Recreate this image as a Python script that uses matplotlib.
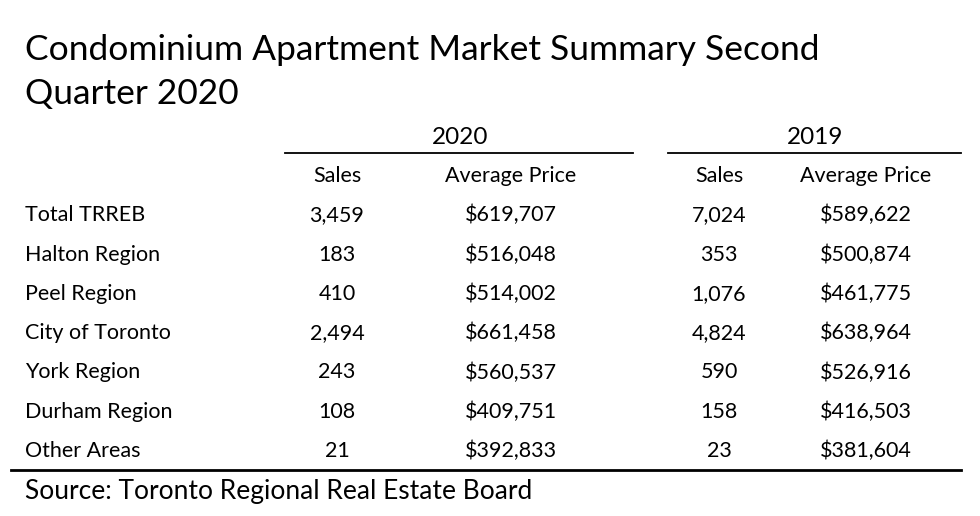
import matplotlib.pyplot as plt

plt.rcParams['font.family'] = ['Lato', 'DejaVu Sans']

title_lines = ["Condominium Apartment Market Summary Second", "Quarter 2020"]
source = "Source: Toronto Regional Real Estate Board"

regions = ["Total TRREB", "Halton Region", "Peel Region", "City of Toronto",
           "York Region", "Durham Region", "Other Areas"]
sales_2020 = [3459, 183, 410, 2494, 243, 108, 21]
price_2020 = [619707, 516048, 514002, 661458, 560537, 409751, 392833]
sales_2019 = [7024, 353, 1076, 4824, 590, 158, 23]
price_2019 = [589622, 500874, 461775, 638964, 526916, 416503, 381604]

fig = plt.figure(figsize=(9.8, 5.16), dpi=100)
ax = fig.add_axes([0, 0, 1, 1])
ax.set_xlim(0, 980)
ax.set_ylim(516, 0)
ax.axis('off')

# title, two lines
ax.text(25, 60, title_lines[0], fontsize=25.5, va='baseline', ha='left')
ax.text(25, 104, title_lines[1], fontsize=25.5, va='baseline', ha='left')

# year headers with underlines
ax.text(460, 137, "2020", fontsize=17.5, ha='center', va='center')
ax.text(815, 137, "2019", fontsize=17.5, ha='center', va='center')
ax.plot([285, 633], [153, 153], color='black', lw=1.3)
ax.plot([668, 961], [153, 153], color='black', lw=1.3)

col_x = [337, 511, 719, 866]
fs = 15.5
y0 = 176
dy = 39.3
for x, lab in zip(col_x, ["Sales", "Average Price", "Sales", "Average Price"]):
    ax.text(x, y0, lab, fontsize=fs, ha='center', va='center')

for i, name in enumerate(regions):
    y = y0 + dy * (i + 1)
    ax.text(25, y, name, fontsize=fs, ha='left', va='center')
    vals = [f"{sales_2020[i]:,}", f"${price_2020[i]:,}",
            f"{sales_2019[i]:,}", f"${price_2019[i]:,}"]
    for x, v in zip(col_x, vals):
        ax.text(x, y, v, fontsize=fs, ha='center', va='center')

ax.plot([11, 961], [470, 470], color='black', lw=2)
ax.text(25, 492, source, fontsize=19, ha='left', va='center')

fig.savefig("out.png", dpi=100, facecolor='white')
